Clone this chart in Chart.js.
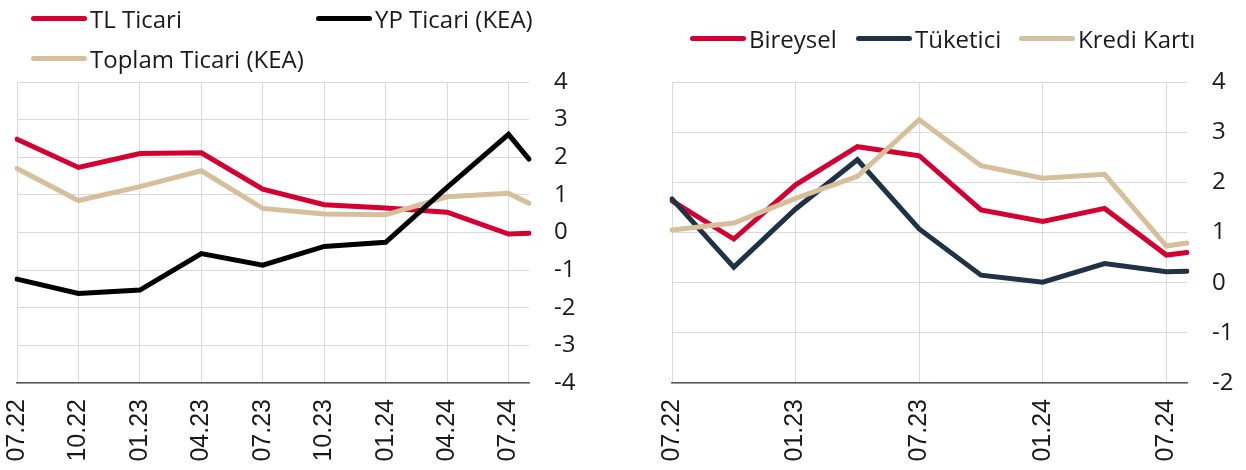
<!DOCTYPE html>
<html>
<head>
<meta charset="utf-8">
<script src="https://cdn.jsdelivr.net/npm/chart.js@4.4.1/dist/chart.umd.min.js"></script>
<style>
  body { margin: 0; background: #fff; width: 1246px; height: 470px; position: relative; overflow: hidden; font-family: 'Open Sans', sans-serif; }
  .box { position: absolute; top: 0; height: 470px; }
  .leg { position: absolute; height: 28px; display: flex; align-items: center; font-size: 24px; color: #1a1a1a; white-space: nowrap; }
  .leg i { display: inline-block; width: 56px; height: 5px; border-radius: 3px; margin-right: 3px; }
</style>
</head>
<body>
<div class="box" style="left:0;width:600px"><canvas id="leftChart"></canvas></div>
<div class="box" style="left:620px;width:626px"><canvas id="rightChart"></canvas></div>

<div class="leg" style="left:31px;top:4px"><i style="background:#d50032"></i>TL Ticari</div>
<div class="leg" style="left:316px;top:4px"><i style="background:#000"></i>YP Ticari (KEA)</div>
<div class="leg" style="left:31px;top:44px"><i style="background:#d6bf9b"></i>Toplam Ticari (KEA)</div>

<div class="leg" style="left:690px;top:24px"><i style="background:#d50032"></i>Bireysel</div>
<div class="leg" style="left:856px;top:24px"><i style="background:#1f3246"></i>Tüketici</div>
<div class="leg" style="left:1019px;top:24px"><i style="background:#d6bf9b"></i>Kredi Kartı</div>

<script>
// month axis (monthly categories, data only on quarter ends + last month)
const months = ['07.22', '08.22', '09.22', '10.22', '11.22', '12.22', '01.23', '02.23', '03.23',
  '04.23', '05.23', '06.23', '07.23', '08.23', '09.23', '10.23', '11.23', '12.23',
  '01.24', '02.24', '03.24', '04.24', '05.24', '06.24', '07.24', '08.24'];
const obsMonths = ['07.22', '10.22', '01.23', '04.23', '07.23', '10.23', '01.24', '04.24', '07.24', '08.24'];

// left panel
const tlTicari     = [2.48, 1.73, 2.10, 2.12, 1.15, 0.74, 0.65, 0.54, -0.04, -0.02];
const ypTicari     = [-1.24, -1.62, -1.53, -0.56, -0.87, -0.37, -0.26, 1.20, 2.61, 1.95];
const toplamTicari = [1.70, 0.85, 1.22, 1.64, 0.64, 0.49, 0.47, 0.95, 1.04, 0.78];
const leftTicks = [-4, -3, -2, -1, 0, 1, 2, 3, 4];

// right panel
const bireysel   = [1.63, 0.87, 1.95, 2.71, 2.53, 1.45, 1.22, 1.48, 0.55, 0.60];
const tuketici   = [1.67, 0.31, 1.47, 2.45, 1.07, 0.15, 0.01, 0.38, 0.22, 0.23];
const krediKarti = [1.05, 1.19, 1.68, 2.12, 3.25, 2.33, 2.08, 2.16, 0.73, 0.79];
const rightTicks = [-2, -1, 0, 1, 2, 3, 4];

const GRID = '#d9d9d9';
const toPoints = vals => vals.map((v, i) => ({ x: obsMonths[i], y: v }));

function line(label, vals, color, order) {
  return {
    label, data: toPoints(vals), borderColor: color, backgroundColor: color,
    borderWidth: 5, pointRadius: 0, tension: 0, order,
    borderCapStyle: 'round', borderJoinStyle: 'miter'
  };
}

function makeChart(id, datasets, yTicks, every, pad, yWidth) {
  new Chart(document.getElementById(id), {
    type: 'line',
    data: { labels: months, datasets },
    options: {
      responsive: true, maintainAspectRatio: false, animation: false,
      layout: { padding: { left: pad, top: 82, right: 0, bottom: 0 } },
      plugins: { legend: { display: false }, tooltip: { enabled: false } },
      scales: {
        x: {
          type: 'category', offset: false,
          grid: { color: c => (c.index % every === 0 ? GRID : 'rgba(0,0,0,0)'), lineWidth: 1, drawTicks: false },
          border: { display: true, color: '#595959', width: 1.5 },
          ticks: {
            autoSkip: false, maxRotation: 90, minRotation: 90, padding: 16,
            color: '#1a1a1a', font: { family: "'Liberation Sans', Arial, sans-serif", size: 25 },
            callback: (v, i) => (i % every === 0 ? months[i] : '')
          },
          afterFit: s => { s.height = 87; }
        },
        y: {
          position: 'right',
          min: yTicks[0], max: yTicks[yTicks.length - 1],
          afterBuildTicks: s => { s.ticks = yTicks.map(v => ({ value: v })); },
          grid: { color: GRID, lineWidth: 1, drawTicks: false },
          border: { display: false },
          ticks: { padding: 25, color: '#1a1a1a', font: { family: "'Open Sans', sans-serif", size: 24 } },
          afterFit: s => { s.width = yWidth; }
        }
      }
    }
  });
}

makeChart('leftChart', [
  line('TL Ticari', tlTicari, '#d50032', 3),
  line('YP Ticari (KEA)', ypTicari, '#000000', 1),
  line('Toplam Ticari (KEA)', toplamTicari, '#d6bf9b', 2)
], leftTicks, 3, 17, 71);

makeChart('rightChart', [
  line('Bireysel', bireysel, '#d50032', 3),
  line('Tüketici', tuketici, '#1f3246', 2),
  line('Kredi Kartı', krediKarti, '#d6bf9b', 1)
], rightTicks, 6, 52, 59);
</script>
</body>
</html>
